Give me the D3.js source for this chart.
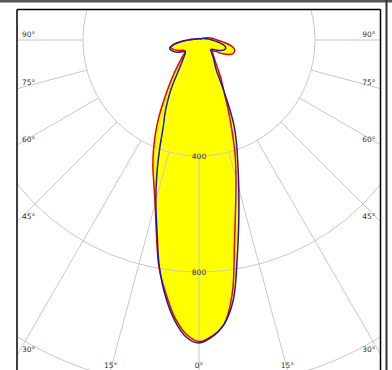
<!DOCTYPE html>
<html><head><meta charset="utf-8">
<script src="https://cdn.jsdelivr.net/npm/d3@7/dist/d3.min.js"></script>
<style>html,body{margin:0;padding:0;background:#fff;}svg{display:block;}</style>
</head><body>
<script>
// gamma angles (degrees from nadir) and luminous intensities (cd)
const angles     = [0,2.5,5,7.5,10,12.5,15,17.5,20,22.5,25,27.5,30,35,40,45,50,55,60,65,70,75,80,85,90,95,100,110,120,135,150,165,180];
const redLeft    = [1040,1015,960,880,795,680,585,518,465,410,355,300,245,165,112,80,62,62,72,84,95,100,88,62,40,25,16,10,7,5,5,5,5];
const redRight   = [1040,1022,985,880,705,584,493,414,332,266,212,176,150,105,82,68,58,68,95,118,128,127,112,85,62,50,40,20,10,6,5,5,5];
const blueLeft   = [1045,1025,970,890,790,670,575,483,395,321,277,231,189,115,85,68,62,70,85,95,103,105,88,60,35,22,15,12,8,5,5,5,5];
const blueRight  = [1045,1025,985,905,760,634,530,445,378,312,225,160,118,92,75,62,52,55,70,85,95,95,82,62,45,35,25,14,8,5,5,5,5];
const ringValues = [400, 800, 1200, 1600];
const ringLabels = ["400", "800"];
const spokeAngles = [0, 15, 30, 45, 60, 75, 90];

const W = 392, H = 370;
const cx = 199, cy = 40;
const frame = {x0: 17, y0: 9.5, x1: 380.5, y1: 372};

const svg = d3.select("body").append("svg").attr("width", W).attr("height", H);

const r = d3.scaleLinear().domain([0, 1200]).range([0, 348]);
const toRad = d => d * Math.PI / 180;

svg.append("defs").append("clipPath").attr("id", "fc")
  .append("rect").attr("x", frame.x0).attr("y", frame.y0)
  .attr("width", frame.x1 - frame.x0).attr("height", frame.y1 - frame.y0);

const g = svg.append("g").attr("clip-path", "url(#fc)");
const c = g.append("g").attr("transform", `translate(${cx},${cy})`);

function pts(left, right) {
  const out = [];
  for (let i = angles.length - 1; i >= 0; i--) out.push({a: Math.PI + toRad(angles[i]), v: left[i]});
  for (let i = 1; i < angles.length - 1; i++) out.push({a: Math.PI - toRad(angles[i]), v: right[i]});
  return out;
}
const line = d3.lineRadial().angle(d => d.a).radius(d => r(d.v)).curve(d3.curveCatmullRomClosed.alpha(0.5));

const redPts = pts(redLeft, redRight), bluePts = pts(blueLeft, blueRight);

// fill
c.append("path").attr("d", line(redPts)).attr("fill", "#ffff00").attr("stroke", "none");
c.append("path").attr("d", line(bluePts)).attr("fill", "#ffff00").attr("stroke", "none");

// grid
const gridCol = "#c8c8c8";
c.selectAll("circle.ring").data(ringValues).join("circle")
  .attr("r", d => r(d)).attr("fill", "none").attr("stroke", gridCol).attr("stroke-width", 1);
const spokes = [];
spokeAngles.forEach(a => { spokes.push(a); if (a !== 0) spokes.push(-a); });
c.selectAll("line.spoke").data(spokes).join("line")
  .attr("x1", d => r(ringValues[0]) * Math.sin(toRad(d)))
  .attr("y1", d => r(ringValues[0]) * Math.cos(toRad(d)))
  .attr("x2", d => 700 * Math.sin(toRad(d)))
  .attr("y2", d => 700 * Math.cos(toRad(d)))
  .attr("stroke", gridCol).attr("stroke-width", 1);

// curves
c.append("path").attr("d", line(redPts)).attr("fill", "none").attr("stroke", "#ee0000").attr("stroke-width", 1.5);
c.append("path").attr("d", line(bluePts)).attr("fill", "none").attr("stroke", "#1a1ab4").attr("stroke-width", 1.5);

// ring labels
const font = "DejaVu Sans, Verdana, sans-serif";
c.selectAll("text.ring").data(ringLabels).join("text")
  .attr("x", 0).attr("y", (d, i) => r(ringValues[i]) + 2.5)
  .attr("text-anchor", "middle").attr("font-family", font).attr("font-size", "7.5px").attr("fill", "#333")
  .text(d => d);

// angle labels at frame edges
spokeAngles.forEach(a => {
  const s = Math.sin(toRad(a)), co = Math.cos(toRad(a));
  if (a === 0) {
    svg.append("text").attr("x", cx).attr("y", 368).attr("text-anchor", "middle")
      .attr("font-family", font).attr("font-size", "7.5px").attr("fill", "#333").text(a + "°");
    return;
  }
  const tSide = (cx - frame.x0) / s;
  const ySide = cy + tSide * co;
  if (ySide < frame.y1 - 8) {
    svg.append("text").attr("x", frame.x0 + 5).attr("y", ySide - 3.5)
      .attr("font-family", font).attr("font-size", "7.5px").attr("fill", "#333").text(a + "°");
    svg.append("text").attr("x", frame.x1 - 5).attr("y", ySide - 3.5).attr("text-anchor", "end")
      .attr("font-family", font).attr("font-size", "7.5px").attr("fill", "#333").text(a + "°");
  } else {
    const tB = (370 - cy) / co;
    const dx = tB * s;
    [-1, 1].forEach(sg => {
      svg.append("text").attr("x", cx + sg * dx).attr("y", 368).attr("text-anchor", "middle")
        .attr("font-family", font).attr("font-size", "7.5px").attr("fill", "#333").text(a + "°");
    });
  }
});

// frame
svg.append("rect").attr("x", 0).attr("y", 0).attr("width", W).attr("height", 2.5).attr("fill", "#555");
svg.append("line").attr("x1", frame.x0).attr("y1", frame.y0).attr("x2", frame.x1).attr("y2", frame.y0)
  .attr("stroke", "#000").attr("stroke-width", 1.5);
svg.append("line").attr("x1", frame.x0).attr("y1", frame.y0).attr("x2", frame.x0).attr("y2", H)
  .attr("stroke", "#000").attr("stroke-width", 1.5);
svg.append("line").attr("x1", frame.x1).attr("y1", frame.y0).attr("x2", frame.x1).attr("y2", H)
  .attr("stroke", "#000").attr("stroke-width", 1.5);
svg.append("line").attr("x1", 386.5).attr("y1", 0).attr("x2", 386.5).attr("y2", H)
  .attr("stroke", "#333").attr("stroke-width", 2);
</script>
</body></html>
